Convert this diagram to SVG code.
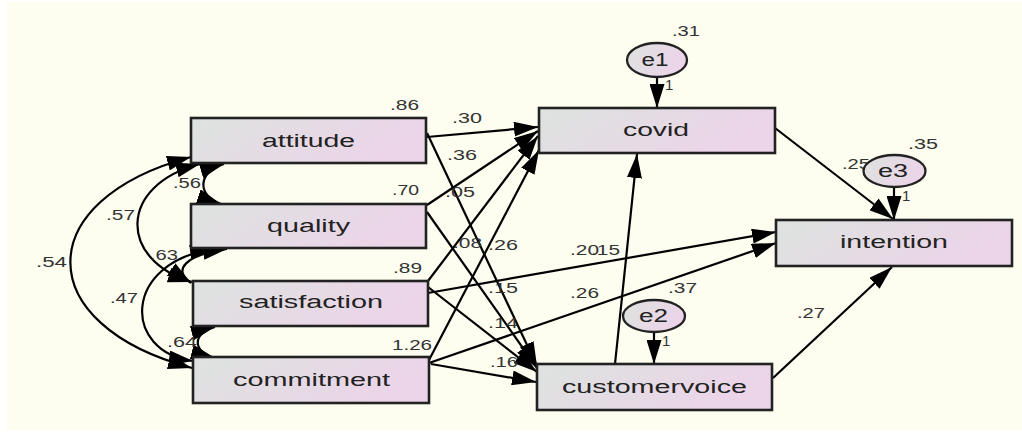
<svg xmlns="http://www.w3.org/2000/svg" width="1022" height="432" viewBox="0 0 1022 432">
<defs>
<linearGradient id="g" x1="0" y1="0" x2="1" y2="0.3">
<stop offset="0" stop-color="#dde3df"/>
<stop offset="1" stop-color="#ecd4e9"/>
</linearGradient>
<marker id="ah" markerUnits="userSpaceOnUse" markerWidth="24" markerHeight="15" refX="24" refY="7.5" orient="auto-start-reverse" viewBox="0 0 24 15">
<path d="M0,0 L24,7.5 L0,15 z" fill="#000"/>
</marker>
<style>
.box{fill:url(#g);stroke:#222;stroke-width:2.6}
.ell{fill:url(#g);stroke:#222;stroke-width:2.3}
.lbl{font-family:"Liberation Sans",Arial,sans-serif;font-size:18px;fill:#222;text-anchor:middle}
.num{font-family:"Liberation Sans",Arial,sans-serif;font-size:15px;fill:#333}
.c line,.c path{stroke:#000;stroke-width:2.2;fill:none}
</style>
</defs>
<rect x="7" y="2" width="1015" height="428" fill="#fdfef0"/>
<g id="connectors" class="c">
<line x1="427" y1="137" x2="538" y2="127" marker-end="url(#ah)"/>
<line x1="427" y1="133" x2="537" y2="366" marker-end="url(#ah)"/>
<line x1="427" y1="205" x2="538" y2="131" marker-end="url(#ah)"/>
<line x1="427" y1="212" x2="537" y2="368" marker-end="url(#ah)"/>
<line x1="428" y1="281" x2="538" y2="136" marker-end="url(#ah)"/>
<line x1="428" y1="287" x2="537" y2="372" marker-end="url(#ah)"/>
<line x1="428" y1="293" x2="776" y2="232" marker-end="url(#ah)"/>
<line x1="429" y1="360" x2="539" y2="150" marker-end="url(#ah)"/>
<line x1="429" y1="363" x2="776" y2="243" marker-end="url(#ah)"/>
<line x1="431" y1="364" x2="536" y2="382" marker-end="url(#ah)"/>
<line x1="615" y1="364" x2="637" y2="154" marker-end="url(#ah)"/>
<line x1="775" y1="128" x2="893" y2="219" marker-end="url(#ah)"/>
<line x1="773" y1="378" x2="892" y2="267" marker-end="url(#ah)"/>
<line x1="657" y1="77" x2="657" y2="108" marker-end="url(#ah)"/>
<line x1="654" y1="332" x2="654" y2="364" marker-end="url(#ah)"/>
<line x1="894" y1="187" x2="894" y2="220" marker-end="url(#ah)"/>
<path d="M224,164 C197,172 197,196 221,204" marker-start="url(#ah)" marker-end="url(#ah)"/>
<path d="M200,164 C118,185 118,260 192,282" marker-start="url(#ah)" marker-end="url(#ah)"/>
<path d="M191,157 C30,200 30,325 192,368" marker-start="url(#ah)" marker-end="url(#ah)"/>
<path d="M227,249 C185,255 172,270 191,283" marker-start="url(#ah)" marker-end="url(#ah)"/>
<path d="M214,249 C122,262 122,352 193,361" marker-start="url(#ah)" marker-end="url(#ah)"/>
<path d="M215,327 C192,333 192,352 215,358" marker-start="url(#ah)" marker-end="url(#ah)"/>
</g>
<g id="labels" class="num">
<text x="672" y="36" textLength="28" lengthAdjust="spacingAndGlyphs">.31</text>
<text x="390" y="110" textLength="29" lengthAdjust="spacingAndGlyphs">.86</text>
<text x="392" y="195" textLength="27" lengthAdjust="spacingAndGlyphs">.70</text>
<text x="393" y="273" textLength="29" lengthAdjust="spacingAndGlyphs">.89</text>
<text x="392" y="350" textLength="40" lengthAdjust="spacingAndGlyphs">1.26</text>
<text x="452" y="123" textLength="30" lengthAdjust="spacingAndGlyphs">.30</text>
<text x="447" y="160" textLength="30" lengthAdjust="spacingAndGlyphs">.36</text>
<text x="445" y="197" textLength="30" lengthAdjust="spacingAndGlyphs">.05</text>
<text x="453" y="248" textLength="29" lengthAdjust="spacingAndGlyphs">.08</text>
<text x="488" y="250" textLength="30" lengthAdjust="spacingAndGlyphs">.26</text>
<text x="488" y="293" textLength="30" lengthAdjust="spacingAndGlyphs">.15</text>
<text x="488" y="328" textLength="30" lengthAdjust="spacingAndGlyphs">.14</text>
<text x="490" y="367" textLength="28" lengthAdjust="spacingAndGlyphs">.16</text>
<text x="570" y="255" textLength="29" lengthAdjust="spacingAndGlyphs">.20</text>
<text x="591" y="255" textLength="29" lengthAdjust="spacingAndGlyphs">.15</text>
<text x="570" y="298" textLength="29" lengthAdjust="spacingAndGlyphs">.26</text>
<text x="668" y="293" textLength="29" lengthAdjust="spacingAndGlyphs">.37</text>
<text x="797" y="318" textLength="28" lengthAdjust="spacingAndGlyphs">.27</text>
<text x="842" y="169" textLength="28" lengthAdjust="spacingAndGlyphs">.25</text>
<text x="908" y="149" textLength="30" lengthAdjust="spacingAndGlyphs">.35</text>
<text x="665" y="90">1</text>
<text x="662" y="346">1</text>
<text x="902" y="201">1</text>
<text x="173" y="188" textLength="28" lengthAdjust="spacingAndGlyphs">.56</text>
<text x="106" y="220" textLength="29" lengthAdjust="spacingAndGlyphs">.57</text>
<text x="36" y="267" textLength="31" lengthAdjust="spacingAndGlyphs">.54</text>
<text x="150" y="260" textLength="28" lengthAdjust="spacingAndGlyphs">.63</text>
<text x="110" y="303" textLength="28" lengthAdjust="spacingAndGlyphs">.47</text>
<text x="167" y="347" textLength="30" lengthAdjust="spacingAndGlyphs">.64</text>
</g>
<g id="attitude"><rect class="box" x="191" y="118" width="235" height="45"/><text class="lbl" x="308.5" y="147" textLength="93" lengthAdjust="spacingAndGlyphs">attitude</text></g>
<g id="quality"><rect class="box" x="191" y="204" width="235" height="44"/><text class="lbl" x="308.5" y="232" textLength="83" lengthAdjust="spacingAndGlyphs">quality</text></g>
<g id="satisfaction"><rect class="box" x="193" y="281" width="235" height="45"/><text class="lbl" x="311" y="308" textLength="144" lengthAdjust="spacingAndGlyphs">satisfaction</text></g>
<g id="commitment"><rect class="box" x="193" y="357" width="236" height="46"/><text class="lbl" x="311.5" y="386" textLength="157" lengthAdjust="spacingAndGlyphs">commitment</text></g>
<g id="covid"><rect class="box" x="539" y="108" width="236" height="45"/><text class="lbl" x="656" y="136" textLength="66" lengthAdjust="spacingAndGlyphs">covid</text></g>
<g id="customervoice"><rect class="box" x="537" y="364" width="235" height="46"/><text class="lbl" x="654.5" y="393" textLength="185" lengthAdjust="spacingAndGlyphs">customervoice</text></g>
<g id="intention"><rect class="box" x="776" y="220" width="236" height="46"/><text class="lbl" x="894" y="248" textLength="108" lengthAdjust="spacingAndGlyphs">intention</text></g>
<g id="e1"><ellipse class="ell" cx="657" cy="60" rx="30" ry="17"/><text class="lbl" x="655" y="66" font-size="16" textLength="27" lengthAdjust="spacingAndGlyphs">e1</text></g>
<g id="e2"><ellipse class="ell" cx="654" cy="316" rx="31" ry="16"/><text class="lbl" x="653.5" y="322" font-size="16" textLength="29" lengthAdjust="spacingAndGlyphs">e2</text></g>
<g id="e3"><ellipse class="ell" cx="894.5" cy="171" rx="31" ry="16"/><text class="lbl" x="893" y="177" font-size="16" textLength="30" lengthAdjust="spacingAndGlyphs">e3</text></g>
</svg>
